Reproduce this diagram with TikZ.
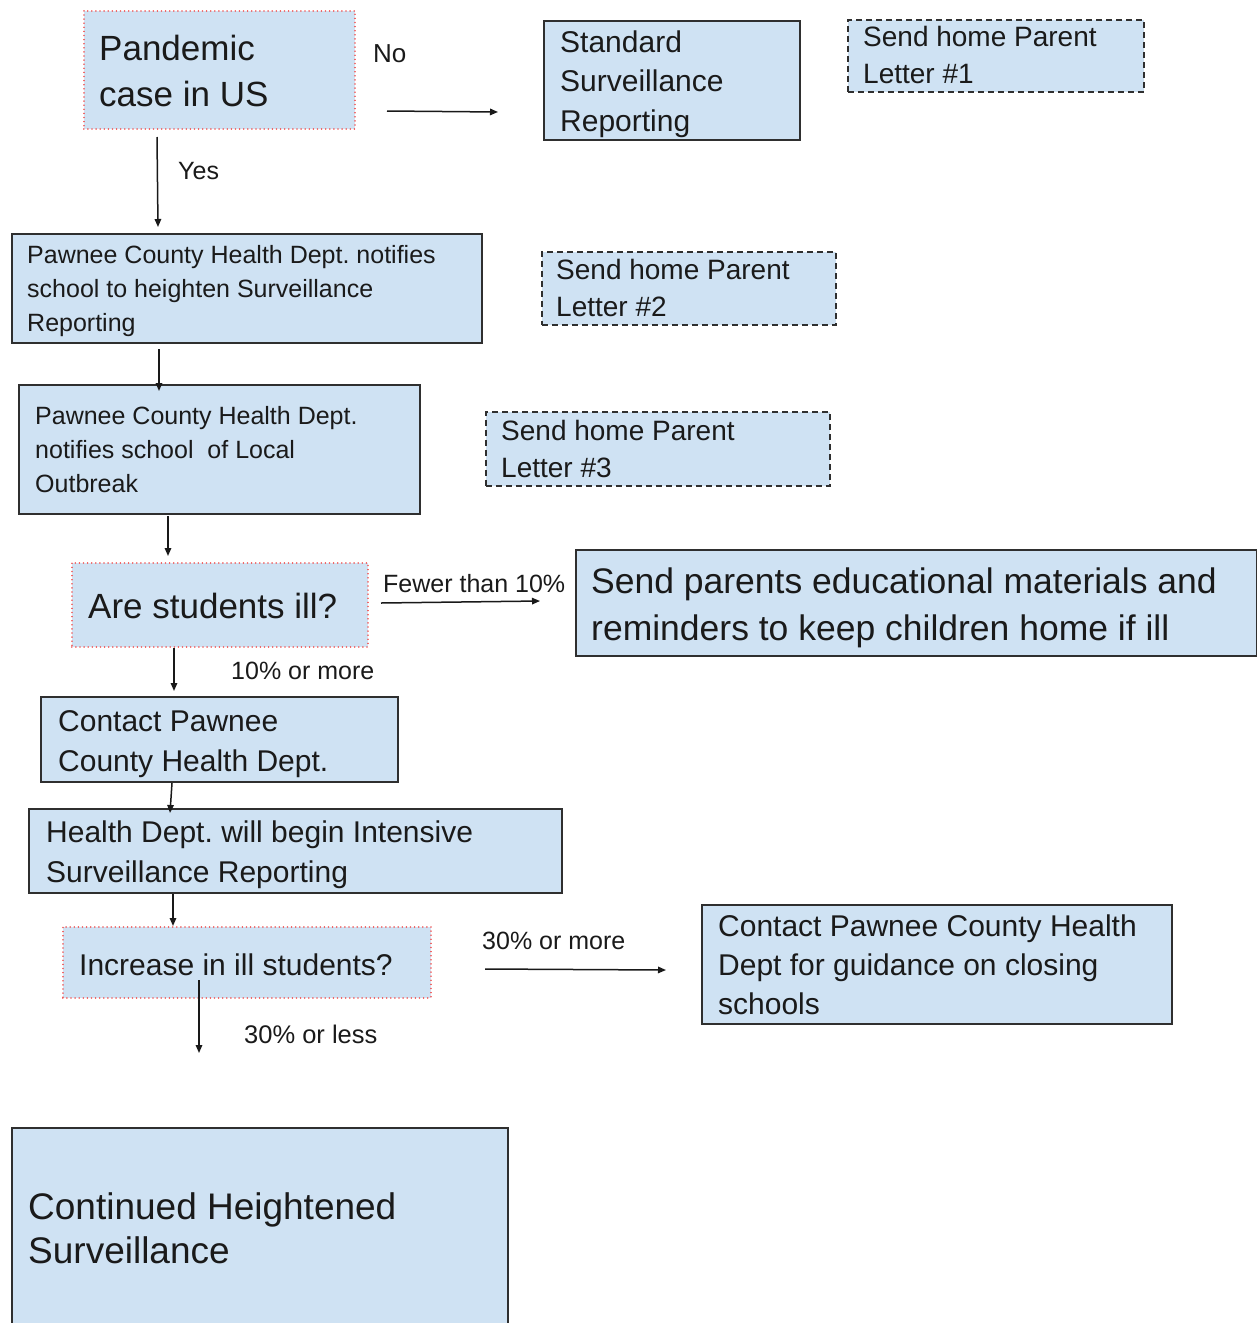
\documentclass[tikz,border=0pt]{standalone}
\usepackage{fontspec}
\setmainfont{Liberation Sans}
\usetikzlibrary{arrows.meta}
\definecolor{boxfill}{HTML}{CFE2F3}
\definecolor{boxline}{HTML}{2F2F2F}
\definecolor{dotred}{HTML}{F05A5A}
\definecolor{textc}{HTML}{1A1A1A}
\newcommand\fsz[2]{\fontsize{#1}{#2}\selectfont\frenchspacing}
\tikzset{
  solidbox/.style={draw=boxline, fill=boxfill, line width=1.5pt},
  dashbox/.style={draw=boxline, fill=boxfill, line width=1.7pt, dash pattern=on 6pt off 4pt},
  dotbox/.style={draw=dotred, fill=boxfill, line width=1.5pt, line cap=round, dash pattern=on 0.1pt off 4pt},
  txt/.style={anchor=base west, inner sep=0pt, text=textc},
  arr/.style={draw=black!90, line width=1.5pt, -{Triangle[length=8pt,width=6.5pt]}}
}
\begin{document}
\begin{tikzpicture}[x=1pt,y=-1pt]
\useasboundingbox (0,0) rectangle (1257,1323);
\fill[white] (0,0) rectangle (1257,1323);

% boxes
\node[dotbox, anchor=north west, inner sep=0pt, minimum width=271pt, minimum height=118pt] (pand) at (83,10) {};
\node[solidbox, anchor=north west, inner sep=0pt, minimum width=256pt, minimum height=119pt] (std) at (543,20) {};
\node[dashbox, anchor=north west, inner sep=0pt, minimum width=296pt, minimum height=72pt] (lone) at (847,19) {};
\node[solidbox, anchor=north west, inner sep=0pt, minimum width=470pt, minimum height=109pt] (heighten) at (11,233) {};
\node[dashbox, anchor=north west, inner sep=0pt, minimum width=294pt, minimum height=73pt] (ltwo) at (541,251) {};
\node[solidbox, anchor=north west, inner sep=0pt, minimum width=401pt, minimum height=129pt] (outbreak) at (18,384) {};
\node[dashbox, anchor=north west, inner sep=0pt, minimum width=344pt, minimum height=74pt] (lthree) at (485,411) {};
\node[dotbox, anchor=north west, inner sep=0pt, minimum width=296pt, minimum height=84pt] (ill) at (71,562) {};
\node[solidbox, anchor=north west, inner sep=0pt, minimum width=681pt, minimum height=106pt] (send) at (575,549) {};
\node[solidbox, anchor=north west, inner sep=0pt, minimum width=357pt, minimum height=85pt] (contact) at (40,696) {};
\node[solidbox, anchor=north west, inner sep=0pt, minimum width=533pt, minimum height=84pt] (intensive) at (28,808) {};
\node[dotbox, anchor=north west, inner sep=0pt, minimum width=368pt, minimum height=71pt] (increase) at (62,926) {};
\node[solidbox, anchor=north west, inner sep=0pt, minimum width=470pt, minimum height=119pt] (close) at (701,904) {};
\node[solidbox, anchor=north west, inner sep=0pt, minimum width=496pt, minimum height=215pt] (cont) at (11,1127) {};

% box texts
\node[txt, font=\fsz{35}{46}] (pandT) at (99,60) {\vtop{\hbox{Pandemic}\hbox{case in US}}};
\node[txt, font=\fsz{30}{39.5}] (stdT) at (560,52) {\vtop{\hbox{Standard}\hbox{Surveillance}\hbox{Reporting}}};
\node[txt, font=\fsz{28}{37}] (loneT) at (863,46) {\vtop{\hbox{Send home Parent}\hbox{Letter \#1}}};
\node[txt, font=\fsz{25}{34}] (heightenT) at (27,263) {\vtop{\hbox{Pawnee County Health Dept. notifies}\hbox{school to heighten Surveillance}\hbox{Reporting}}};
\node[txt, font=\fsz{28}{37}] (ltwoT) at (556,279) {\vtop{\hbox{Send home Parent}\hbox{Letter \#2}}};
\node[txt, font=\fsz{25}{34}] (outbreakT) at (35,424) {\vtop{\hbox{Pawnee County Health Dept.}\hbox{notifies school\ \ of Local}\hbox{Outbreak}}};
\node[txt, font=\fsz{28}{37}] (lthreeT) at (501,440) {\vtop{\hbox{Send home Parent}\hbox{Letter \#3}}};
\node[txt, font=\fsz{35}{46}] (illT) at (88,618) {Are students ill?};
\node[txt, font=\fsz{35.5}{47}] (sendT) at (591,593) {\vtop{\hbox{Send parents educational materials and}\hbox{reminders to keep children home if ill}}};
\node[txt, font=\fsz{30}{40}] (contactT) at (58,731) {\vtop{\hbox{Contact Pawnee}\hbox{County Health Dept.}}};
\node[txt, font=\fsz{30}{40}] (intensiveT) at (46,842) {\vtop{\hbox{Health Dept. will begin Intensive}\hbox{Surveillance Reporting}}};
\node[txt, font=\fsz{30}{40}] (increaseT) at (79,975) {Increase in ill students?};
\node[txt, font=\fsz{30}{39}] (closeT) at (718,936) {\vtop{\hbox{Contact Pawnee County Health}\hbox{Dept for guidance on closing}\hbox{schools}}};
\node[txt, font=\fsz{37}{44}] (contT) at (28,1219) {\vtop{\hbox{Continued Heightened}\hbox{Surveillance}}};

% labels
\node[txt, font=\fsz{26}{30}] (noL) at (373,62) {No};
\node[txt, font=\fsz{25}{30}] (yesL) at (178,179) {Yes};
\node[txt, font=\fsz{25}{30}] (fewerL) at (383,592) {Fewer than 10\%};
\node[txt, font=\fsz{25}{30}] (tenL) at (231,679) {10\% or more};
\node[txt, font=\fsz{25.5}{30}] (lessL) at (244,1043) {30\% or less};
\node[txt, font=\fsz{25}{30}] (moreL) at (482,949) {30\% or more};

% connector end points
\coordinate (noA) at (387,111);   \coordinate (noB) at (498,112);
\coordinate (yesA) at (157,137);  \coordinate (yesB) at (158,227);
\coordinate (hA) at (159,349);    \coordinate (hB) at (159,391);
\coordinate (oA) at (168,516);    \coordinate (oB) at (168,556);
\coordinate (fA) at (381,603);    \coordinate (fB) at (540,601);
\coordinate (iA) at (174,648);    \coordinate (iB) at (174,691);
\coordinate (cA) at (172,783);    \coordinate (cB) at (170,813);
\coordinate (tA) at (173,894);    \coordinate (tB) at (173,926);
\coordinate (lA) at (199,980);    \coordinate (lB) at (199,1053);
\coordinate (mA) at (485,969);    \coordinate (mB) at (666,970);

\draw[arr] (noA) -- (noB);
\draw[arr] (yesA) -- (yesB);
\draw[arr] (hA) -- (hB);
\draw[arr] (oA) -- (oB);
\draw[arr] (fA) -- (fB);
\draw[arr] (iA) -- (iB);
\draw[arr] (cA) -- (cB);
\draw[arr] (tA) -- (tB);
\draw[arr] (lA) -- (lB);
\draw[arr] (mA) -- (mB);
\end{tikzpicture}
\end{document}
